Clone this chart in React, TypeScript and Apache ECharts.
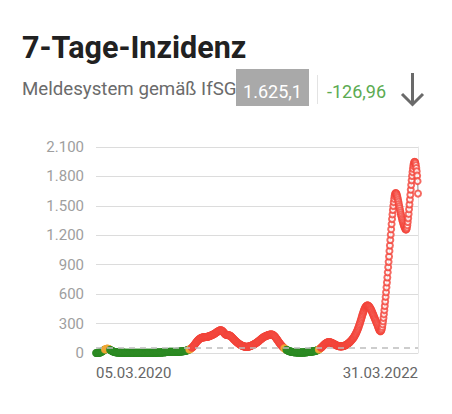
import React, { useEffect, useRef } from "react";
import * as echarts from "echarts";

// ---- data: 7-day incidence, daily, 05.03.2020 – 31.03.2022 ----
const startDate = "2020-03-05";

const m2020_03 = [0.4, 0.5, 0.7, 0.9, 1.2, 1.6, 2.1, 2.8, 3.6, 4.7, 6.0, 7.6, 9.5, 11.7, 14.2, 17.0, 20.0, 23.2, 26.5, 29.8, 33.0, 36.0, 38.6, 40.7, 42.3, 43.4, 44.0];
const m2020_04 = [44.3, 43.5, 42.0, 40.0, 37.6, 35.0, 32.3, 29.6, 27.0, 24.5, 22.1, 19.9, 17.9, 16.0, 14.3, 12.8, 11.5, 10.3, 9.3, 8.4, 7.6, 6.9, 6.3, 5.8, 5.3, 4.9, 4.6, 4.3, 4.0, 3.8];
const m2020_05 = [3.6, 3.5, 3.4, 3.3, 3.3, 3.2, 3.2, 3.3, 3.4, 3.4, 3.3, 3.2, 3.1, 3.0, 2.9, 2.8, 2.7, 2.6, 2.6, 2.5, 2.5, 2.4, 2.4, 2.3, 2.3, 2.2, 2.2, 2.1, 2.1, 2.1, 2.0];
const m2020_06 = [2.0, 2.0, 1.9, 1.9, 1.9, 1.8, 1.8, 1.8, 1.7, 1.7, 1.7, 1.6, 1.6, 1.6, 1.6, 1.7, 1.9, 2.3, 2.7, 3.0, 3.1, 3.1, 3.0, 2.9, 2.8, 2.7, 2.6, 2.5, 2.4, 2.3];
const m2020_07 = [2.2, 2.1, 2.0, 2.0, 1.9, 1.9, 1.9, 1.9, 2.0, 2.0, 2.1, 2.1, 2.2, 2.3, 2.4, 2.5, 2.5, 2.6, 2.7, 2.8, 2.9, 3.0, 3.1, 3.3, 3.5, 3.7, 3.9, 4.1, 4.3, 4.5, 4.7];
const m2020_08 = [4.9, 5.1, 5.3, 5.5, 5.7, 5.9, 6.1, 6.3, 6.5, 6.8, 7.1, 7.4, 7.8, 8.2, 8.6, 9.0, 9.4, 9.8, 10.1, 10.4, 10.7, 11.0, 11.2, 11.4, 11.5, 11.6, 11.6, 11.6, 11.5, 11.4, 11.3];
const m2020_09 = [11.2, 11.1, 11.0, 10.9, 10.9, 10.9, 11.0, 11.1, 11.3, 11.5, 11.8, 12.1, 12.5, 12.9, 13.3, 13.7, 14.1, 14.5, 15.0, 15.5, 16.0, 16.5, 17.0, 17.5, 18.0, 18.6, 19.2, 19.8, 20.5, 21.2];
const m2020_10 = [22.0, 23.0, 24.2, 25.5, 27.0, 28.6, 30.3, 32.1, 34.0, 36.0, 38.2, 40.6, 43.3, 46.3, 49.6, 53.2, 57.2, 61.6, 66.4, 71.6, 77.2, 83.0, 89.0, 95.0, 101.0, 107.0, 112.8, 118.3, 123.4, 128.0, 132.2];
const m2020_11 = [136, 140, 143.5, 146.7, 149.5, 152, 154, 155.8, 157.2, 158.3, 159.2, 160, 160.6, 161.1, 161.5, 161.9, 162.3, 162.8, 163.4, 164.1, 165, 166, 167.2, 168.5, 170, 171.6, 173.3, 175, 176.8, 178.6];
const m2020_12 = [180.5, 182.5, 184.6, 186.8, 189.1, 191.5, 194, 196.6, 199.3, 202.1, 205, 208, 211, 214, 217, 220, 222.8, 225.3, 227.5, 229.3, 230.7, 231.6, 231.8, 231.2, 229.6, 227, 223.5, 219, 214, 208.5, 203];
const m2021_01 = [198, 193.5, 189.5, 186.5, 184.5, 183.3, 182.8, 182.6, 182.5, 182.2, 181.5, 180.3, 178.5, 176, 173, 169.5, 165.5, 161, 156.5, 152, 147.5, 143, 138.5, 134, 129.6, 125.3, 121, 117, 113, 109.2, 105.5];
const m2021_02 = [102, 98.6, 95.3, 92.2, 89.2, 86.4, 83.7, 81.1, 78.7, 76.4, 74.3, 72.4, 70.6, 69, 67.6, 66.4, 65.4, 64.6, 64, 63.6, 63.4, 63.4, 63.6, 64, 64.6, 65.4, 66.4, 67.6];
const m2021_03 = [69, 70.5, 72.1, 73.8, 75.6, 77.5, 79.5, 81.6, 83.8, 86.1, 88.5, 91, 93.6, 96.3, 99.1, 102, 105, 108.1, 111.3, 114.6, 118, 121.5, 125.1, 128.8, 132.5, 136.2, 139.9, 143.5, 147, 150.4, 153.7];
const m2021_04 = [156.8, 159.7, 162.4, 164.9, 167.2, 169.3, 171.3, 173.2, 175, 176.8, 178.5, 180.2, 181.8, 183.3, 184.7, 186, 187.1, 188, 188.6, 188.9, 188.8, 188.2, 187, 185.2, 182.8, 179.8, 176.2, 172, 167.3, 162.2];
const m2021_05 = [156.8, 151, 145, 138.8, 132.5, 126.2, 119.9, 113.7, 107.6, 101.6, 95.8, 90.2, 84.8, 79.6, 74.6, 69.8, 65.2, 60.8, 56.6, 52.6, 48.8, 45.2, 41.8, 38.6, 35.6, 32.8, 30.2, 27.8, 25.6, 23.6, 21.8];
const m2021_06 = [20.1, 18.6, 17.2, 15.9, 14.7, 13.6, 12.6, 11.7, 10.9, 10.2, 9.5, 8.9, 8.4, 7.9, 7.5, 7.1, 6.8, 6.5, 6.3, 6.1, 5.9, 5.8, 5.7, 5.6, 5.5, 5.5, 5.4, 5.4, 5.4, 5.4];
const m2021_07 = [5.4, 5.5, 5.5, 5.6, 5.7, 5.9, 6.1, 6.3, 6.6, 7.0, 7.4, 7.8, 8.3, 8.8, 9.4, 10, 10.6, 11.2, 11.8, 12.4, 13, 13.6, 14.2, 14.8, 15.4, 16, 16.6, 17.2, 17.8, 18.5, 19.2];
const m2021_08 = [20, 21, 22.2, 23.6, 25.2, 27, 29, 31.2, 33.6, 36.2, 39, 42, 45.2, 48.6, 52.2, 56, 60, 64.2, 68.6, 73.1, 77.6, 82, 86.3, 90.4, 94.2, 97.6, 100.6, 103.2, 105.4, 107.2, 108.6];
const m2021_09 = [109.6, 110.2, 110.4, 110.2, 109.6, 108.7, 107.5, 106, 104.3, 102.4, 100.3, 98.1, 95.8, 93.4, 91, 88.6, 86.2, 83.9, 81.7, 79.6, 77.6, 75.8, 74.1, 72.6, 71.3, 70.2, 69.3, 68.6, 68.1, 67.8];
const m2021_10 = [67.7, 67.8, 68.1, 68.6, 69.3, 70.2, 71.3, 72.6, 74.1, 75.8, 77.7, 79.8, 82.1, 84.6, 87.3, 90.2, 93.4, 96.8, 100.4, 104.2, 108.2, 112.4, 116.8, 121.4, 126.2, 131.2, 136.4, 141.8, 147.4, 153.2, 159.2];
const m2021_11 = [166, 173, 180.5, 188.5, 197, 206, 215.5, 225.5, 236, 247, 258.5, 270.5, 283, 296, 309.5, 323.5, 338, 352.5, 367, 381.5, 395.5, 409, 422, 434, 445, 455, 463.5, 470.5, 476, 480];
const m2021_12 = [483, 484.5, 484.5, 483, 480, 475.8, 470.5, 464.2, 457, 449, 440.3, 431, 421.2, 411, 400.5, 389.8, 379, 368.2, 357.4, 346.6, 335.8, 325, 314.2, 303.4, 292.6, 281.8, 271, 260.4, 250, 240, 230.5];
const m2022_01 = [223, 221.5, 224, 232, 246, 266, 292, 323, 358, 396, 437, 480, 525, 572, 620, 669, 719, 770, 822, 875, 929, 984, 1040, 1096, 1152, 1207, 1261, 1314, 1365, 1413, 1458];
const m2022_02 = [1499, 1538, 1572, 1600, 1619, 1629, 1631, 1626, 1615, 1600, 1582, 1562, 1541, 1519, 1497, 1475, 1453, 1432, 1412, 1393, 1375, 1358, 1342, 1327, 1313, 1300, 1289, 1279];
const m2022_03 = [1268, 1260, 1258, 1264, 1279, 1303, 1335, 1374, 1418, 1465, 1514, 1564, 1614, 1664, 1713, 1760, 1804, 1844, 1879, 1908, 1930, 1944, 1950, 1947, 1935, 1914, 1886, 1852, 1808, 1752.06, 1625.1];

const values: number[] = [
  ...m2020_03, ...m2020_04, ...m2020_05, ...m2020_06, ...m2020_07, ...m2020_08,
  ...m2020_09, ...m2020_10, ...m2020_11, ...m2020_12, ...m2021_01, ...m2021_02,
  ...m2021_03, ...m2021_04, ...m2021_05, ...m2021_06, ...m2021_07, ...m2021_08,
  ...m2021_09, ...m2021_10, ...m2021_11, ...m2021_12, ...m2022_01, ...m2022_02,
  ...m2022_03,
];

const yTicks = [0, 300, 600, 900, 1200, 1500, 1800, 2100];
const thresholds = [35, 50];
const headerTitle = "7-Tage-Inzidenz";
const headerSub = "Meldesystem gemäß IfSG";
const currentValue = "1.625,1";
const changeValue = "-126,96";

function pad(n: number) {
  return n < 10 ? "0" + n : "" + n;
}
function buildDates(start: string, count: number): string[] {
  const out: string[] = [];
  const d0 = new Date(start + "T00:00:00Z");
  for (let i = 0; i < count; i++) {
    const d = new Date(d0.getTime() + i * 86400000);
    out.push(pad(d.getUTCDate()) + "." + pad(d.getUTCMonth() + 1) + "." + d.getUTCFullYear());
  }
  return out;
}
const categories = buildDates(startDate, values.length);

function fmtDe(v: number) {
  const s = String(Math.round(v));
  return s.replace(/\B(?=(\d{3})+(?!\d))/g, ".");
}

const GREEN = "#2a8a22";
const ORANGE = "#f0a533";
const RED = "#f2433a";
const FONT = "Roboto, 'Noto Sans', sans-serif";

export default function App() {
  const ref = useRef<HTMLDivElement>(null);
  useEffect(() => {
    if (!ref.current) return;
    const chart = echarts.init(ref.current, undefined, { renderer: "svg" });
    const last = categories.length - 1;
    chart.setOption({
      animation: false,
      backgroundColor: "#ffffff",
      textStyle: { fontFamily: FONT },
      grid: { left: 96, right: 34, top: 147, bottom: 61 },
      xAxis: {
        type: "category",
        data: categories,
        boundaryGap: false,
        axisLine: { show: false },
        axisTick: { show: false },
        splitLine: { show: false },
        axisLabel: {
          interval: (i: number) => i === 0 || i === last,
          showMinLabel: true,
          showMaxLabel: true,
          alignMinLabel: "left",
          alignMaxLabel: "right",
          color: "#666666",
          fontSize: 15,
          fontFamily: FONT,
          margin: 12,
        },
      },
      yAxis: [
        {
          type: "value",
          min: yTicks[0],
          max: yTicks[yTicks.length - 1],
          interval: yTicks[1] - yTicks[0],
          axisLine: { show: false },
          axisTick: { show: false },
          axisLabel: {
            color: "#9e9e9e",
            fontSize: 15,
            fontFamily: FONT,
            margin: 12,
            formatter: (v: number) => fmtDe(v),
          },
          splitLine: { lineStyle: { color: "#dcdcdc", width: 1.2 } },
        },
        {
          type: "value",
          position: "right",
          min: yTicks[0],
          max: yTicks[yTicks.length - 1],
          interval: yTicks[1] - yTicks[0],
          axisLine: { show: true, lineStyle: { color: "#e6e6e6", width: 1 } },
          axisTick: { show: false },
          axisLabel: { show: false },
          splitLine: { show: false },
        },
      ],
      visualMap: {
        show: false,
        type: "piecewise",
        seriesIndex: 1,
        dimension: 1,
        pieces: [
          { lt: thresholds[0], color: GREEN },
          { gte: thresholds[0], lt: thresholds[1], color: ORANGE },
          { gte: thresholds[1], color: RED },
        ],
      },
      series: [
        {
          type: "line",
          data: values,
          showSymbol: false,
          symbol: "none",
          lineStyle: { color: "#9a9a9a", width: 1 },
          z: 1,
          markLine: {
            silent: true,
            symbol: ["none", "none"],
            label: { show: false },
            lineStyle: { color: "#bdbdbd", type: [6, 5], width: 1.5 },
            data: [{ yAxis: thresholds[1] }],
          },
        },
        {
          type: "scatter",
          data: values.map((v, i) => [i, v]),
          symbol: "emptyCircle",
          symbolSize: 6,
          itemStyle: { borderWidth: 1.6 },
          z: 3,
        },
      ],
      graphic: [
        {
          type: "text",
          x: 22,
          y: 47,
          style: {
            text: headerTitle,
            fontSize: 30.5,
            fontWeight: "bold",
            fontFamily: FONT,
            fill: "#212121",
            align: "left",
            verticalAlign: "middle",
          },
        },
        {
          type: "text",
          x: 22,
          y: 89,
          style: {
            text: headerSub,
            fontSize: 18.7,
            fontFamily: FONT,
            fill: "#6b6b6b",
            align: "left",
            verticalAlign: "middle",
          },
        },
        {
          type: "rect",
          shape: { x: 236, y: 69, width: 73, height: 37 },
          style: { fill: "#a9a9a9" },
        },
        {
          type: "text",
          x: 272.5,
          y: 91.5,
          style: {
            text: currentValue,
            fontSize: 18,
            fontFamily: FONT,
            fill: "#ffffff",
            align: "center",
            verticalAlign: "middle",
          },
        },
        {
          type: "line",
          shape: { x1: 317.5, y1: 75, x2: 317.5, y2: 104 },
          style: { stroke: "#e3e3e3", lineWidth: 1 },
        },
        {
          type: "text",
          x: 327,
          y: 91.5,
          style: {
            text: changeValue,
            fontSize: 18,
            fontFamily: FONT,
            fill: "#5cab52",
            align: "left",
            verticalAlign: "middle",
          },
        },
        {
          type: "line",
          shape: { x1: 412.5, y1: 73, x2: 412.5, y2: 104 },
          style: { stroke: "#6a6a6a", lineWidth: 3 },
        },
        {
          type: "polyline",
          shape: { points: [[402, 94], [412.5, 104.5], [423, 94]] },
          style: { stroke: "#6a6a6a", lineWidth: 3, fill: "none" },
        },
      ],
    });
    return () => chart.dispose();
  }, []);
  return (
    <div
      ref={ref}
      style={{ position: "fixed", left: 0, top: 0, width: 452, height: 414, background: "#fff" }}
    />
  );
}
